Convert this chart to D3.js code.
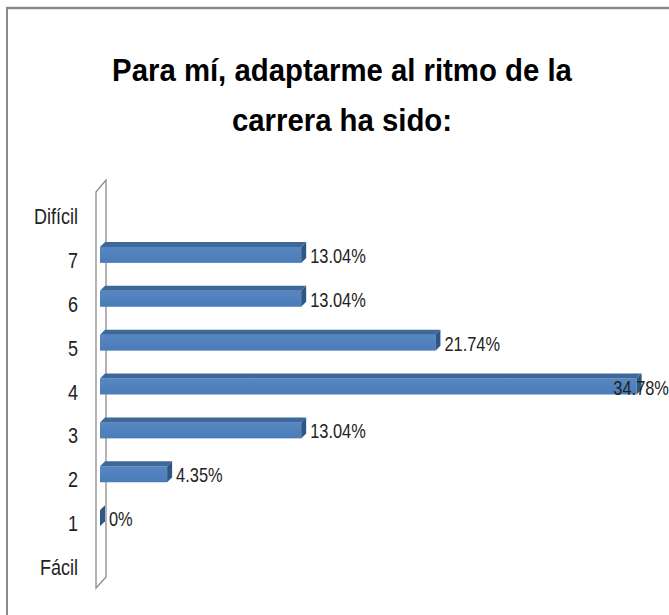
<!DOCTYPE html>
<html>
<head>
<meta charset="utf-8">
<script src="https://cdn.jsdelivr.net/npm/d3@7"></script>
<style>
  body { margin: 0; background: #fff; }
  svg { display: block; }
</style>
</head>
<body>
<script>
// datos
const categorias = ["Difícil", "7", "6", "5", "4", "3", "2", "1", "Fácil"];
const valores = [null, 13.04, 13.04, 21.74, 34.78, 13.04, 4.35, 0, null];
const etiquetas = [null, "13.04%", "13.04%", "21.74%", "34.78%", "13.04%", "4.35%", "0%", null];
const titulo = ["Para mí, adaptarme al ritmo de la", "carrera ha sido:"];

const W = 669, H = 615;
const FONT = "'Liberation Sans', Arial, sans-serif";
const NARROW = 0.82; // la fuente original es estrecha

const svg = d3.select("body").append("svg")
    .attr("width", W)
    .attr("height", H);

// marco
svg.append("line").attr("x1", 6).attr("x2", W).attr("y1", 8).attr("y2", 8)
    .attr("stroke", "#8a8a8a").attr("stroke-width", 2.5);
svg.append("line").attr("x1", 7).attr("x2", 7).attr("y1", 7).attr("y2", H)
    .attr("stroke", "#8a8a8a").attr("stroke-width", 2);

// título
const tit = svg.append("g").selectAll("text")
    .data(titulo)
    .join("text")
    .attr("text-anchor", "middle")
    .style("font-family", FONT)
    .style("font-weight", "bold")
    .style("font-size", "32px")
    .attr("fill", "#000")
    .text(d => d);
const sTit = 460 / tit.node().getComputedTextLength();
tit.attr("transform", (d, i) => `translate(342,${81 + i * 50}) scale(${sTit},1)`);

// escalas
const x = d3.scaleLinear()
    .domain([0, 35])
    .range([100, 640]);

const y = d3.scalePoint()
    .domain(categorias)
    .range([216, 567]);

// pared 3D del eje
svg.append("path")
    .attr("d", "M96,192 L106,180 L106,577 L96,588 Z")
    .attr("fill", "#fff")
    .attr("stroke", "#8c8c8c")
    .attr("stroke-width", 1.3);

// etiquetas del eje
svg.append("g").selectAll("text")
    .data(categorias)
    .join("text")
    .attr("transform", d => `translate(78,${y(d) + 8}) scale(${NARROW},1)`)
    .attr("text-anchor", "end")
    .style("font-family", FONT)
    .style("font-size", "22px")
    .attr("fill", "#222")
    .text(d => d);

// barras 3D
const datos = categorias.map((c, i) => ({ cat: c, v: valores[i], lab: etiquetas[i] }))
    .filter(d => d.v !== null);

const dx = 5, dy = 5, bh = 16;

const grad = svg.append("defs").append("linearGradient")
    .attr("id", "g1").attr("x1", 0).attr("x2", 0).attr("y1", 0).attr("y2", 1);
grad.append("stop").attr("offset", "0%").attr("stop-color", "#5787c2");
grad.append("stop").attr("offset", "100%").attr("stop-color", "#4a7cb8");

const barras = svg.append("g").selectAll("g")
    .data(datos)
    .join("g");

barras.append("rect")
    .attr("x", x(0))
    .attr("y", d => y(d.cat) - 13)
    .attr("width", d => x(d.v) - x(0))
    .attr("height", bh)
    .attr("fill", "url(#g1)");

barras.append("path")
    .attr("d", d => {
        const x0 = x(0), x1 = x(d.v), t = y(d.cat) - 13;
        return `M${x0},${t} L${x0 + dx},${t - dy} L${x1 + dx},${t - dy} L${x1},${t} Z`;
    })
    .attr("fill", "#3d6899");

barras.append("path")
    .attr("d", d => {
        const x1 = x(d.v), t = y(d.cat) - 13;
        return `M${x1},${t} L${x1 + dx},${t - dy} L${x1 + dx},${t - dy + bh} L${x1},${t + bh} Z`;
    })
    .attr("fill", "#2f5686");

// etiquetas de valor
barras.append("text")
    .style("font-family", FONT)
    .style("font-size", "20px")
    .attr("fill", "#222")
    .text(d => d.lab)
    .each(function (d) {
        const w = this.getComputedTextLength() * NARROW;
        let px = x(d.v) + dx + 4;
        if (px + w > W) px = W - w;
        d3.select(this).attr("transform", `translate(${px},${y(d.cat) + 3}) scale(${NARROW},1)`);
    });
</script>
</body>
</html>
